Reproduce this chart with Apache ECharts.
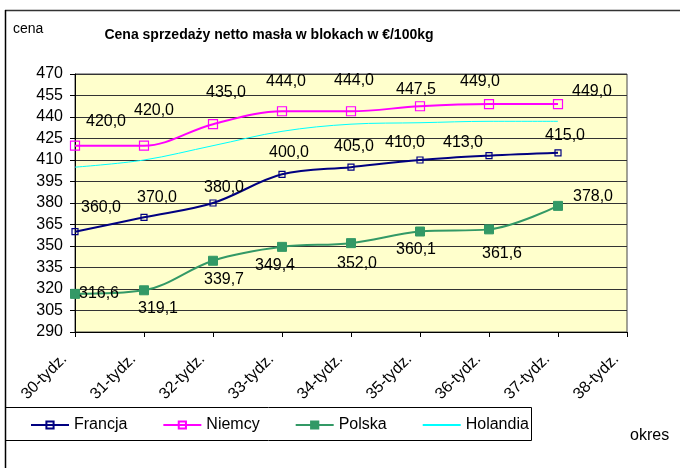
<!DOCTYPE html>
<html>
<head>
<meta charset="utf-8">
<script src="https://cdn.jsdelivr.net/npm/echarts@6/dist/echarts.min.js"></script>
<style>
    html, body { margin: 0; padding: 0; background: #fff; }
    #chart { width: 680px; height: 468px; }
</style>
</head>
<body>
<div id="chart"></div>
<script>
// kategorie (tygodnie)
var weeks = ['30-tydz.', '31-tydz.', '32-tydz.', '33-tydz.', '34-tydz.', '35-tydz.', '36-tydz.', '37-tydz.', '38-tydz.'];

// ceny w euro / 100kg
var francja = [360.0, 370.0, 380.0, 400.0, 405.0, 410.0, 413.0, 415.0];
var niemcy = [420.0, 420.0, 435.0, 444.0, 444.0, 447.5, 449.0, 449.0];
var polska = [316.6, 319.1, 339.7, 349.4, 352.0, 360.1, 361.6, 378.0];
var holandia = [405, 410, 420, 430, 435, 436, 437, 437];

// przesunięcia etykiet (jak w oryginale)
var offFr = [[26, -24], [13, -20], [11, -15], [7, -22], [3, -21], [-15, -17], [-26, -13], [7, -17]];
var offNi = [[31, -24], [10, -35], [13, -32], [4, -30], [3, -31], [-4, -17], [-9, -23], [34, -13]];
var offPl = [[24, 0], [14, 18], [11, 19], [-7, 19], [6, 20], [-4, 18], [13, 24], [35, -9]];

var fmt = function (v) {
    return v.toFixed(1).replace('.', ',');
};

// dane z etykietami
var withLabels = function (arr, offs) {
    return arr.map(function (v, i) {
        return {
            value: v,
            label: { offset: offs[i] }
        };
    });
};

var chart = echarts.init(document.getElementById('chart'));

var labelStyle = {
    show: true,
    position: 'inside',
    align: 'center',
    verticalAlign: 'middle',
    fontFamily: 'Liberation Sans',
    fontSize: 16,
    color: '#000',
    formatter: function (p) { return fmt(p.value); }
};

var option = {
    backgroundColor: '#fff',
    animation: false,
    title: {
        text: 'Cena sprzedaży netto masła w blokach w €/100kg',
        left: 264,
        textAlign: 'center',
        top: 23,
        textStyle: {
            fontFamily: 'Liberation Sans',
            fontSize: 14,
            fontWeight: 'bold',
            color: '#000'
        }
    },
    graphic: [
        { type: 'line', shape: { x1: 5, y1: 10.5, x2: 680, y2: 10.5 }, style: { stroke: '#333', lineWidth: 1.5 } },
        { type: 'line', shape: { x1: 5.5, y1: 10, x2: 5.5, y2: 468 }, style: { stroke: '#000', lineWidth: 1.5 } },
        { type: 'rect', shape: { x: 5.5, y: 407.5, width: 526, height: 33 }, style: { fill: 'none', stroke: '#000', lineWidth: 1 } },
        { type: 'text', left: 13, top: 22, style: { text: 'cena', font: '14px "Liberation Sans"', fill: '#000' } },
        { type: 'text', left: 630, top: 428, style: { text: 'okres', font: '16px "Liberation Sans"', fill: '#000' } }
    ],
    legend: {
        left: 25,
        top: 412,
        itemWidth: 38,
        itemHeight: 9,
        itemGap: 35,
        textStyle: {
            fontFamily: 'Liberation Sans',
            fontSize: 16,
            color: '#000'
        },
        data: ['Francja', 'Niemcy', 'Polska', { name: 'Holandia', itemStyle: { opacity: 0 } }]
    },
    grid: {
        left: 75,
        right: 53,
        top: 74,
        bottom: 136,
        show: true,
        backgroundColor: '#FFFFCC',
        borderColor: '#444',
        borderWidth: 1
    },
    xAxis: {
        type: 'category',
        boundaryGap: false,
        data: weeks,
        axisLine: { lineStyle: { color: '#000', width: 1 } },
        axisTick: { show: true, alignWithLabel: true, length: 5, lineStyle: { color: '#000' } },
        axisLabel: {
            interval: 0,
            rotate: 45,
            margin: 14,
            padding: [0, 15, 0, 0],
            fontFamily: 'Liberation Sans',
            fontSize: 16,
            color: '#000'
        },
        splitLine: { show: false }
    },
    yAxis: {
        type: 'value',
        min: 290,
        max: 470,
        interval: 15,
        axisLine: { show: true, lineStyle: { color: '#000', width: 1 } },
        axisTick: { show: true, length: 5, lineStyle: { color: '#000' } },
        axisLabel: {
            margin: 12,
            fontFamily: 'Liberation Sans',
            fontSize: 16,
            color: '#000'
        },
        splitLine: { show: true, lineStyle: { color: '#333', width: 1 } }
    },
    series: [
        {
            name: 'Francja',
            type: 'line',
            smooth: 0.35,
            data: withLabels(francja, offFr),
            symbol: 'rect',
            symbolSize: 6,
            lineStyle: { color: '#000080', width: 2 },
            itemStyle: { color: 'rgba(255,255,204,0)', borderColor: '#000080', borderWidth: 1.2 },
            label: labelStyle,
            z: 4
        },
        {
            name: 'Niemcy',
            type: 'line',
            smooth: 0.35,
            data: withLabels(niemcy, offNi),
            symbol: 'rect',
            symbolSize: 9,
            lineStyle: { color: '#FF00FF', width: 2 },
            itemStyle: { color: 'rgba(255,255,204,0)', borderColor: '#FF00FF', borderWidth: 1.2 },
            label: labelStyle,
            z: 4
        },
        {
            name: 'Polska',
            type: 'line',
            smooth: 0.35,
            data: withLabels(polska, offPl),
            symbol: 'rect',
            symbolSize: 9,
            lineStyle: { color: '#339966', width: 2 },
            itemStyle: { color: '#339966', borderColor: '#339966', borderWidth: 1 },
            label: labelStyle,
            z: 4
        },
        {
            name: 'Holandia',
            type: 'line',
            smooth: 0.35,
            data: holandia,
            symbol: 'none',
            showSymbol: false,
            lineStyle: { color: '#00FFFF', width: 1 },
            itemStyle: { color: '#00FFFF' },
            z: 3
        }
    ]
};

chart.setOption(option);
</script>
</body>
</html>
